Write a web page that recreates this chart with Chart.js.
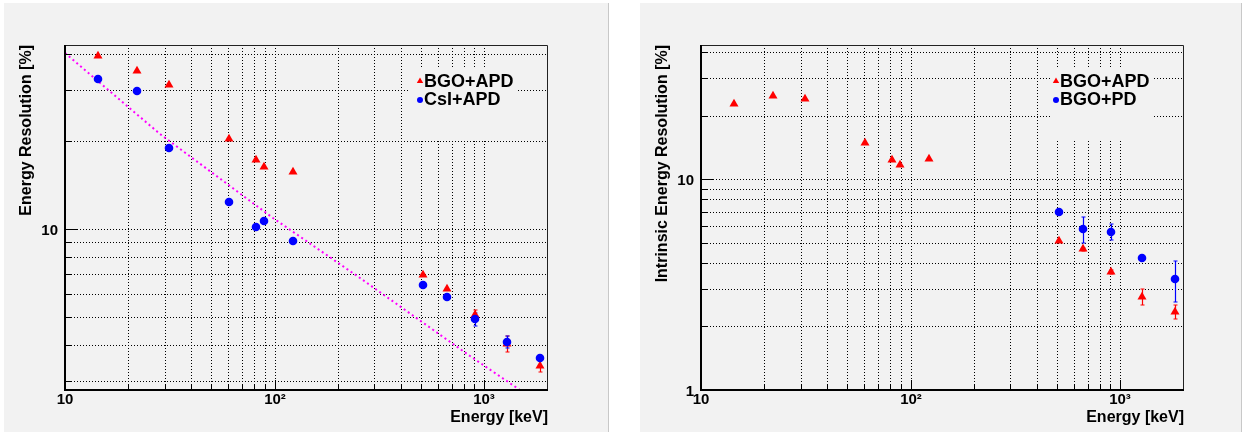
<!DOCTYPE html>
<html>
<head>
<meta charset="utf-8">
<script src="https://cdn.jsdelivr.net/npm/chart.js@4.4.0/dist/chart.umd.min.js"></script>
<style>
  html, body { margin: 0; padding: 0; background: #ffffff; }
  body { width: 1246px; height: 432px; position: relative; overflow: hidden; }
  .pad { position: absolute; background: #f2f2f2; }
  .pad canvas { position: absolute; left: 0; top: 0; }
  .edge { position: absolute; top: 3px; width: 1px; height: 429px; background: #c8c8c8; }
</style>
</head>
<body>
<div class="pad" id="padL" style="left:4px; top:3px; width:605px; height:429px;"><canvas id="cL" width="605" height="429"></canvas></div>
<div class="edge" style="left:608px;"></div>
<div class="pad" id="padR" style="left:640px; top:3px; width:602px; height:429px;"><canvas id="cR" width="602" height="429"></canvas></div>
<div class="edge" style="left:1241px;"></div>
<script>
// ---------------- data ----------------
// Left panel: Energy Resolution [%]
const energyL   = [14.4, 22.1, 31.3, 60.4, 81.4, 88.9, 122.9, 513, 665, 903, 1283, 1845];
const bgoApdL   = [39.3, 34.9, 31.2, 20.4, 17.3, 16.3, 15.7, 6.93, 6.21, 5.06, 4.03, 3.39];
const bgoApdErrL= [0, 0, 0, 0, 0, 0, 0, 0, 0, 0.2, 0.25, 0.15];
const csiApdL   = [32.7, 29.7, 19.0, 12.4, 10.2, 10.7, 9.11, 6.45, 5.85, 4.90, 4.10, 3.61];
const csiApdErrL= [0, 0, 0, 0, 0, 0, 0, 0, 0, 0.25, 0.19, 0.05];
// dotted fit curve
const fitE = [10, 28.4, 98.6, 256, 857, 1486, 2020];
const fitR = [40.2, 21.3, 10.9, 6.77, 3.66, 2.80, 2.80];

// Right panel: Intrinsic Energy Resolution [%]
const energyApdR = [14.4, 22.1, 31.3, 60.4, 81.4, 88.9, 122.9, 513, 665, 905, 1278, 1837];
const bgoApdR    = [22.8, 24.7, 23.9, 14.8, 12.3, 11.6, 12.4, 5.10, 4.64, 3.64, 2.77, 2.35];
const bgoApdErrR = [0, 0, 0, 0, 0, 0, 0, 0, 0.08, 0.08, 0.25, 0.18];
const energyPdR  = [513, 665, 905, 1278, 1837];
const bgoPdR     = [7.0, 5.78, 5.63, 4.21, 3.35];
const bgoPdErrR  = [0.1, 0.8, 0.5, 0.08, 0.73];

// axes
const xTicks  = [10,20,30,40,50,60,70,80,90,100,200,300,400,500,600,700,800,900,1000];
const xMajor  = [10, 100, 1000];
const xLabels = {10: '10', 100: '10\u00B2', 1000: '10\u00B3'};
const yTicksL = [3,4,5,6,7,8,9,10,20,30,40];
const yMajorL = [10];
const yLabelsL = {10: '10'};
const yTicksR = [1,2,3,4,5,6,7,8,9,10,20,30,40];
const yMajorR = [1, 10];
const yLabelsR = {1: '1', 10: '10'};

const xRange = [10, 2020];
const yRangeL = [2.8, 42.9];
const yRangeR = [1, 43.2];

const titleX = 'Energy [keV]';
const titleYL = 'Energy Resolution [%]';
const titleYR = 'Intrinsic Energy Resolution [%]';
const namesL = ['BGO+APD', 'CsI+APD'];
const namesR = ['BGO+APD', 'BGO+PD'];

// ---------------- styling ----------------
const RED = '#ff0000', BLUE = '#0000ff', MAGENTA = '#ff00ff', PADBG = '#f2f2f2';
const FONT = "'Liberation Sans', Arial, Helvetica, sans-serif";
Chart.defaults.font.family = FONT;
Chart.defaults.font.weight = 'bold';
Chart.defaults.color = '#000';

const pts = (xs, ys) => xs.map((x, i) => ({x: x, y: ys[i]}));

const rootPlugin = {
  id: 'rootStyle',
  beforeDatasetsDraw(chart, args, opts) {
    const {ctx, chartArea: a, scales: {x, y}} = chart;
    ctx.save();
    ctx.beginPath();
    ctx.rect(a.left, a.top, a.right - a.left, a.bottom - a.top);
    ctx.clip();
    (opts.errors || []).forEach(eb => {
      const ds = chart.data.datasets[eb.dataset];
      ctx.strokeStyle = eb.color;
      ctx.lineWidth = 1.2;
      ds.data.forEach((p, i) => {
        const e = eb.values[i];
        if (!e) return;
        const px = Math.round(x.getPixelForValue(p.x)) + 0.5;
        const y1 = y.getPixelForValue(p.y + e), y2 = y.getPixelForValue(p.y - e);
        ctx.beginPath();
        ctx.moveTo(px, y1); ctx.lineTo(px, y2);
        ctx.moveTo(px - 2, y1); ctx.lineTo(px + 2, y1);
        ctx.moveTo(px - 2, y2); ctx.lineTo(px + 2, y2);
        ctx.stroke();
      });
    });
    ctx.restore();
  },
  afterDraw(chart, args, opts) {
    const {ctx, chartArea: a, scales: {x, y}} = chart;
    ctx.save();
    // frame
    ctx.strokeStyle = '#222';
    ctx.lineWidth = 1;
    ctx.beginPath();
    ctx.moveTo(a.left, a.top + 0.5); ctx.lineTo(a.right - 0.5, a.top + 0.5); ctx.lineTo(a.right - 0.5, a.bottom);
    ctx.stroke();
    ctx.strokeStyle = '#000';
    ctx.lineWidth = 2;
    ctx.beginPath();
    ctx.moveTo(a.left, a.top); ctx.lineTo(a.left, a.bottom); ctx.lineTo(a.right, a.bottom);
    ctx.stroke();
    // inward ticks
    ctx.lineWidth = 1;
    ctx.beginPath();
    opts.xTicks.forEach(v => {
      const px = Math.round(x.getPixelForValue(v)) + 0.5;
      const len = opts.xMajor.includes(v) ? 10 : 5;
      ctx.moveTo(px, a.bottom); ctx.lineTo(px, a.bottom - len);
    });
    opts.yTicks.forEach(v => {
      const py = Math.round(y.getPixelForValue(v)) + 0.5;
      const len = opts.yMajor.includes(v) ? 13 : 6;
      ctx.moveTo(a.left, py); ctx.lineTo(a.left + len, py);
    });
    ctx.stroke();
    // legend
    const L = opts.legend;
    ctx.fillStyle = PADBG;
    ctx.fillRect(L.box[0], L.box[1], L.box[2] - L.box[0], L.box[3] - L.box[1]);
    ctx.font = 'bold 18px ' + FONT;
    ctx.textBaseline = 'middle';
    ctx.textAlign = 'left';
    L.entries.forEach((en, i) => {
      const cy = L.y0 + i * L.dy;
      ctx.fillStyle = en.color;
      ctx.beginPath();
      if (en.shape === 'triangle') {
        ctx.moveTo(L.mx, cy - 3.5); ctx.lineTo(L.mx + 3.2, cy + 2); ctx.lineTo(L.mx - 3.2, cy + 2);
        ctx.closePath();
      } else {
        ctx.arc(L.mx, cy + 1, 3, 0, Math.PI * 2);
      }
      ctx.fill();
      ctx.fillStyle = '#000';
      ctx.fillText(en.text, L.tx, cy + 1);
    });
    ctx.restore();
  }
};

function makeChart(canvasId, cfg) {
  const W = document.getElementById(canvasId).width;
  const gridOpts = {color: '#000', lineWidth: 1, drawTicks: false};
  return new Chart(document.getElementById(canvasId), {
    type: 'scatter',
    data: {datasets: cfg.datasets},
    options: {
      responsive: false,
      animation: false,
      devicePixelRatio: 1,
      layout: {padding: {left: 0, top: 42, right: W - 544, bottom: 0}},
      plugins: {
        legend: {display: false},
        tooltip: {enabled: false},
        rootStyle: {
          errors: cfg.errors,
          xTicks: xTicks, xMajor: xMajor,
          yTicks: cfg.yTicks, yMajor: cfg.yMajor,
          legend: cfg.legend
        }
      },
      scales: {
        x: {
          type: 'logarithmic',
          min: xRange[0], max: xRange[1],
          alignToPixels: true,
          afterBuildTicks: s => { s.ticks = xTicks.map(v => ({value: v})); },
          afterFit: s => { s.height = 42; },
          grid: gridOpts,
          border: {display: false, dash: [1, 2]},
          ticks: {
            autoSkip: false, maxRotation: 0, padding: 1,
            font: {size: 15, weight: 'bold'},
            callback: v => (xLabels[v] !== undefined ? xLabels[v] : '')
          },
          title: {display: true, text: titleX, align: 'end', font: {size: 16, weight: 'bold'}, padding: {top: 0, bottom: 5}}
        },
        y: {
          type: 'logarithmic',
          min: cfg.yRange[0], max: cfg.yRange[1],
          alignToPixels: true,
          afterBuildTicks: s => { s.ticks = cfg.yTicks.map(v => ({value: v})); },
          afterFit: s => { s.width = 61; },
          grid: gridOpts,
          border: {display: false, dash: [1, 2]},
          ticks: {
            autoSkip: false, padding: 7, labelOffset: 2,
            font: {size: 15, weight: 'bold'},
            callback: v => (cfg.yLabels[v] !== undefined ? cfg.yLabels[v] : '')
          },
          title: {display: true, text: cfg.yTitle, align: 'end', font: {size: 16, weight: 'bold'}, padding: {top: 13, bottom: 0}}
        }
      }
    },
    plugins: [rootPlugin]
  });
}

makeChart('cL', {
  datasets: [
    {label: namesL[0], data: pts(energyL, bgoApdL), pointStyle: 'triangle', pointRadius: 5.2,
     backgroundColor: RED, borderColor: RED, borderWidth: 0, order: 1},
    {label: namesL[1], data: pts(energyL, csiApdL), pointStyle: 'circle', pointRadius: 4.3,
     backgroundColor: BLUE, borderColor: BLUE, borderWidth: 0, order: 0},
    {label: 'fit', data: pts(fitE, fitR), showLine: true, pointRadius: 0, borderColor: MAGENTA,
     borderWidth: 2, borderDash: [2, 3], tension: 0, order: 2}
  ],
  errors: [{dataset: 0, values: bgoApdErrL, color: RED}, {dataset: 1, values: csiApdErrL, color: BLUE}],
  yRange: yRangeL, yTicks: yTicksL, yMajor: yMajorL, yLabels: yLabelsL, yTitle: titleYL,
  legend: {box: [406, 66, 514, 137], mx: 416, tx: 420, y0: 78, dy: 18,
    entries: [{text: namesL[0], color: RED, shape: 'triangle'}, {text: namesL[1], color: BLUE, shape: 'circle'}]}
});

makeChart('cR', {
  datasets: [
    {label: namesR[0], data: pts(energyApdR, bgoApdR), pointStyle: 'triangle', pointRadius: 5.2,
     backgroundColor: RED, borderColor: RED, borderWidth: 0, order: 1},
    {label: namesR[1], data: pts(energyPdR, bgoPdR), pointStyle: 'circle', pointRadius: 4.3,
     backgroundColor: BLUE, borderColor: BLUE, borderWidth: 0, order: 0}
  ],
  errors: [{dataset: 0, values: bgoApdErrR, color: RED}, {dataset: 1, values: bgoPdErrR, color: BLUE}],
  yRange: yRangeR, yTicks: yTicksR, yMajor: yMajorR, yLabels: yLabelsR, yTitle: titleYR,
  legend: {box: [410, 66, 514, 137], mx: 416, tx: 420, y0: 78, dy: 18,
    entries: [{text: namesR[0], color: RED, shape: 'triangle'}, {text: namesR[1], color: BLUE, shape: 'circle'}]}
});
</script>
</body>
</html>
